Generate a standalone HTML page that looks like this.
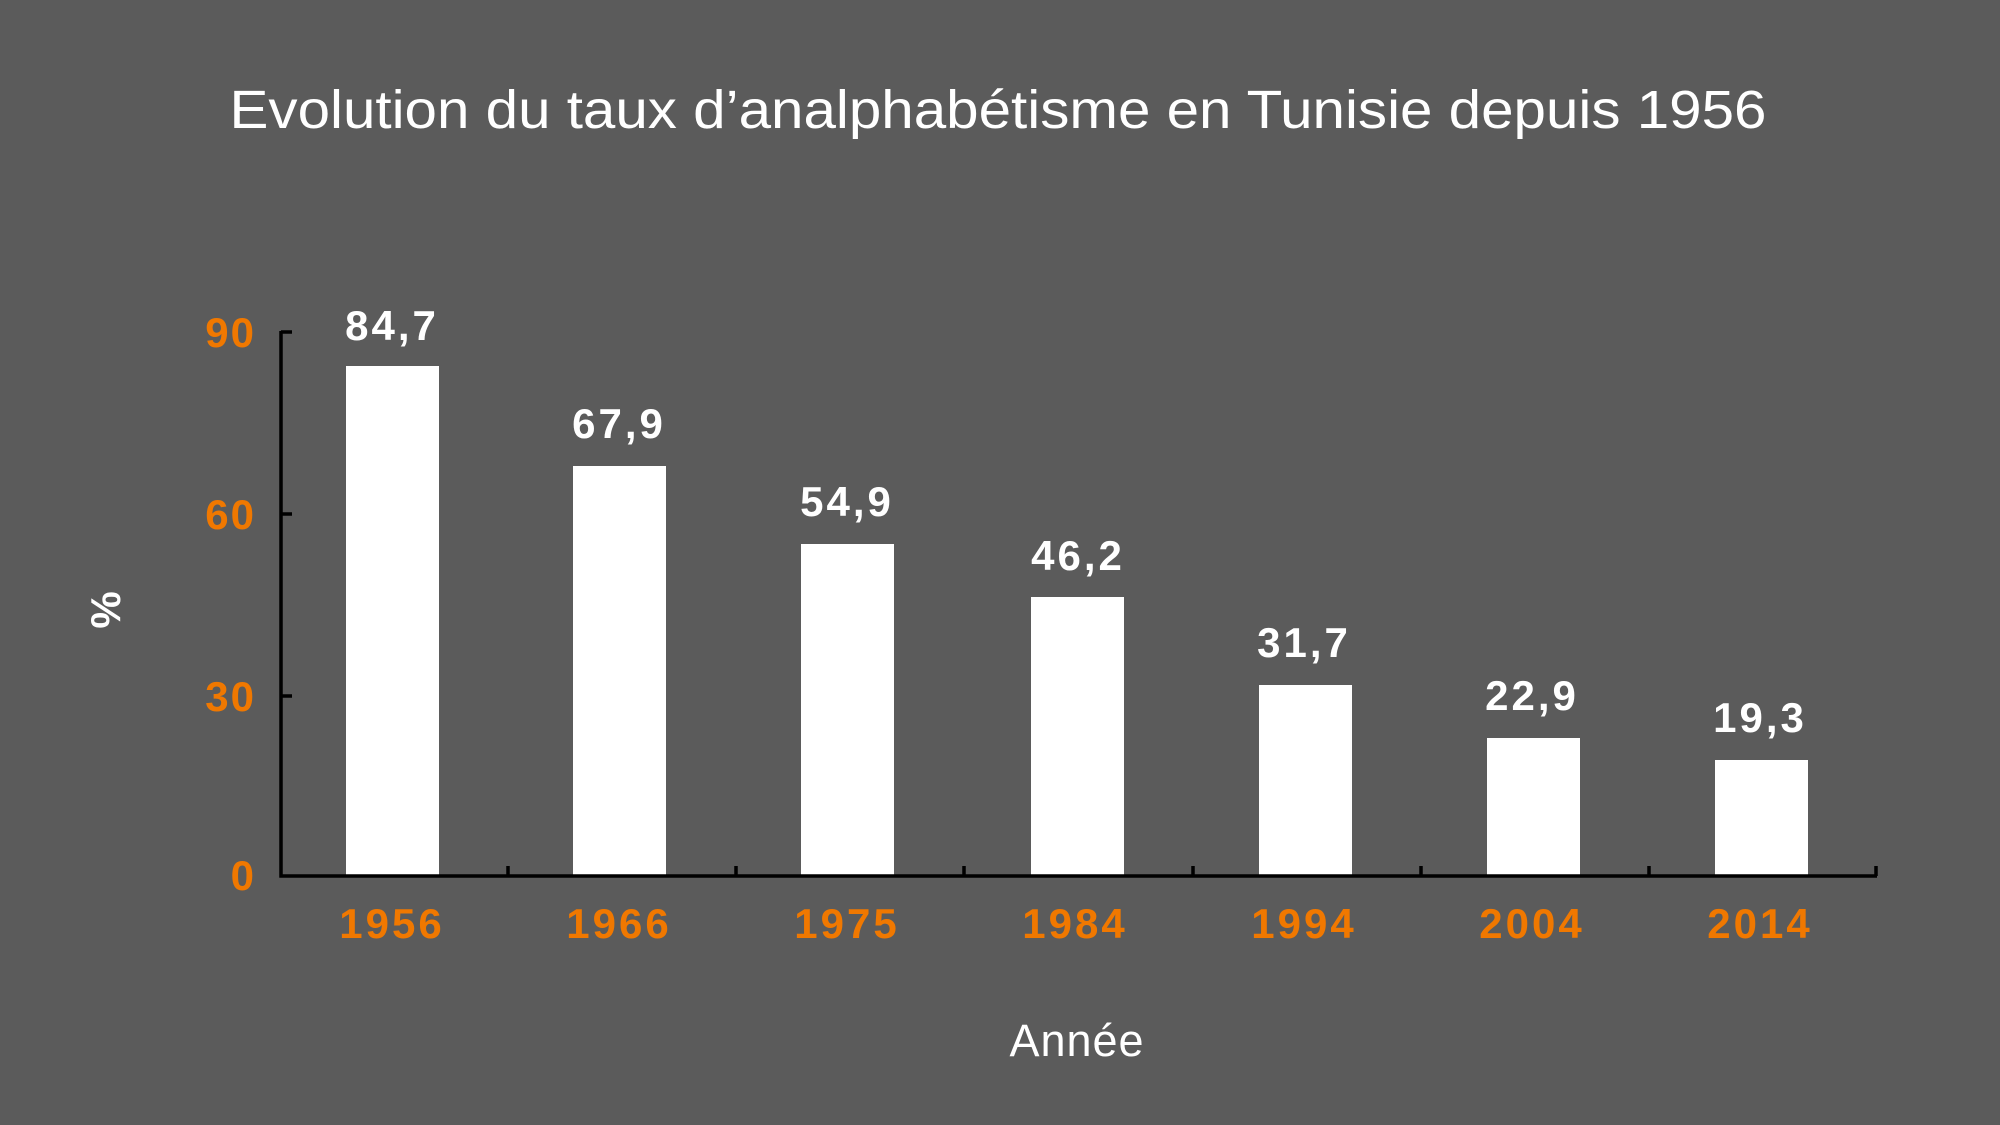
<!DOCTYPE html>
<html><head><meta charset="utf-8"><style>
html,body{margin:0;padding:0;background:#5b5b5b;}
svg{display:block;}
</style></head><body>
<svg width="2000" height="1125" viewBox="0 0 2000 1125" xmlns="http://www.w3.org/2000/svg" font-family="Liberation Sans, sans-serif">
<rect width="2000" height="1125" fill="#5b5b5b"/>
<text x="998" y="128" text-anchor="middle" font-size="54" fill="#fff" textLength="1537" lengthAdjust="spacingAndGlyphs">Evolution du taux d’analphabétisme en Tunisie depuis 1956</text>
<g fill="#fff">
<rect x="346" y="366" width="93" height="510"/>
<rect x="573" y="466" width="93" height="410"/>
<rect x="801" y="544" width="93" height="332"/>
<rect x="1031" y="597" width="93" height="279"/>
<rect x="1259" y="685" width="93" height="191"/>
<rect x="1487" y="738" width="93" height="138"/>
<rect x="1715" y="760" width="93" height="116"/>
</g>
<g stroke="#000" stroke-width="3.5" fill="none">
<path d="M281 331 V876 H1877"/>
<path d="M281 332 H292 M281 514 H292 M281 696 H292"/>
<path d="M508 876 V866 M736 876 V866 M964 876 V866 M1193 876 V866 M1421 876 V866 M1649 876 V866 M1876 876 V866"/>
</g>
<g fill="#f07800" font-weight="bold" font-size="42" text-anchor="end" letter-spacing="2">
<text x="256" y="347">90</text>
<text x="256" y="529">60</text>
<text x="256" y="711">30</text>
<text x="256" y="890">0</text>
</g>
<g fill="#f07800" font-weight="bold" font-size="42" text-anchor="middle" letter-spacing="3">
<text x="392" y="938">1956</text>
<text x="619" y="938">1966</text>
<text x="847" y="938">1975</text>
<text x="1075" y="938">1984</text>
<text x="1304" y="938">1994</text>
<text x="1532" y="938">2004</text>
<text x="1760" y="938">2014</text>
</g>
<g fill="#fff" font-weight="bold" font-size="42" text-anchor="middle" letter-spacing="3">
<text x="392" y="340">84,7</text>
<text x="619" y="438">67,9</text>
<text x="847" y="516">54,9</text>
<text x="1078" y="570">46,2</text>
<text x="1304" y="657">31,7</text>
<text x="1532" y="710">22,9</text>
<text x="1760" y="732">19,3</text>
</g>
<text x="1077" y="1056" text-anchor="middle" font-size="45" fill="#fff" letter-spacing="1">Année</text>
<text transform="translate(120,610) rotate(-90)" text-anchor="middle" font-size="42" font-weight="bold" fill="#fff">%</text>
</svg>
</body></html>
